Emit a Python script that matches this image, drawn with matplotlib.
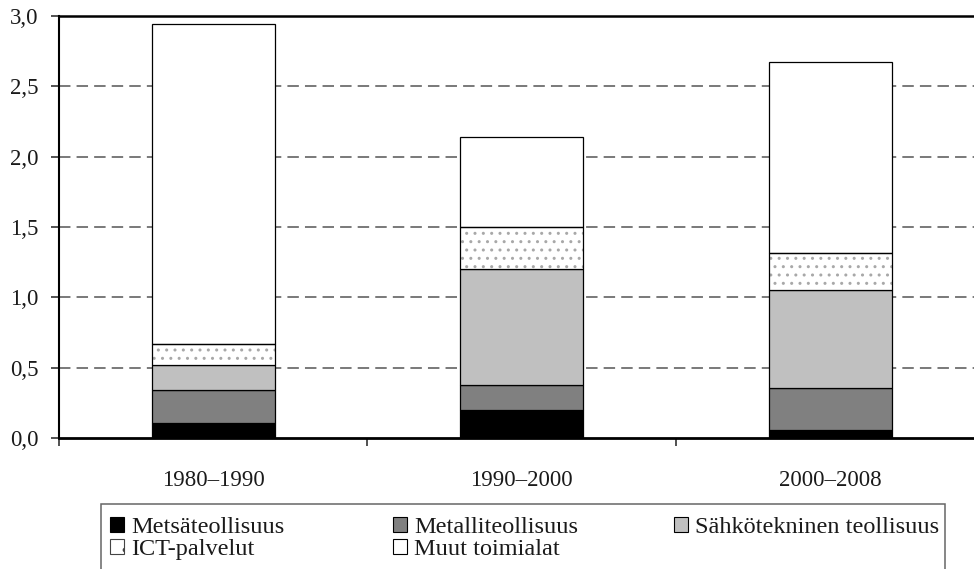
import matplotlib
matplotlib.use("Agg")
import matplotlib.pyplot as plt
import numpy as np
from matplotlib.patches import Rectangle, Patch
from matplotlib.ticker import FixedLocator, FuncFormatter

periods = ["1980\u20131990", "1990\u20132000", "2000\u20132008"]
series_names = ["Mets\u00e4teollisuus", "Metalliteollisuus", "S\u00e4hk\u00f6tekninen teollisuus",
                "ICT-palvelut", "Muut toimialat"]
metsa = [0.11, 0.20, 0.055]
metalli = [0.23, 0.18, 0.30]
sahko = [0.18, 0.82, 0.70]
ict = [0.15, 0.30, 0.26]
muut = [2.27, 0.64, 1.36]
yticks = [0.0, 0.5, 1.0, 1.5, 2.0, 2.5, 3.0]

plt.rcParams['font.family'] = ['Liberation Serif', 'DejaVu Serif']
plt.rcParams['hatch.linewidth'] = 1.0
FS = 16.5
LFS = 17.5
TXT = '#1a1a1a'

W, H = 974, 569
fig = plt.figure(figsize=(W / 100, H / 100), dpi=100)
ax = fig.add_axes([59 / W, (H - 438) / H, 925.5 / W, 422 / H])

x = np.arange(len(periods))
bw = 0.40
values = [metsa, metalli, sahko, ict, muut]
fills = ['black', '#808080', '#c0c0c0', 'white', 'white']
bottom = np.zeros(len(periods))
handles = []
for name, vals, fc in zip(series_names, values, fills):
    vals = np.array(vals)
    if name == "ICT-palvelut":
        ax.bar(x, vals, bw, bottom=bottom, color='white', edgecolor='#a8a8a8',
               linewidth=0, hatch='..', zorder=3)
        ax.bar(x, vals, bw, bottom=bottom, fill=False, edgecolor='black',
               linewidth=0.9, zorder=4)
        handles.append(Patch(facecolor='white', edgecolor='#444444', linewidth=0.8,
                             hatch='.'))
    else:
        ax.bar(x, vals, bw, bottom=bottom, color=fc, edgecolor='black',
               linewidth=0.9, zorder=3)
        handles.append(Patch(facecolor=fc, edgecolor='black', linewidth=0.8))
    bottom += vals

ax.set_xlim(-0.5, 2.5)
ax.set_ylim(0, 3.0)
ax.yaxis.set_major_locator(FixedLocator(yticks))
ax.yaxis.set_major_formatter(FuncFormatter(lambda v, p: f"{v:.1f}".replace('.', ',')))
ax.set_xticks(x)
ax.set_xticklabels(periods)
ax.set_xticks([-0.5, 0.5, 1.5, 2.5], minor=True)
ax.tick_params(axis='x', which='major', length=0, pad=23, labelsize=FS, labelcolor=TXT)
ax.tick_params(axis='x', which='minor', length=6, width=1.2, direction='out', color='#333333')
ax.tick_params(axis='y', length=6, width=1.2, direction='out', pad=9, labelsize=FS,
               labelcolor=TXT, color='#333333')

for gy in yticks[1:-1]:
    ax.axhline(gy, color='#555555', linestyle=(0, (7.5, 4)), linewidth=1.1, zorder=1)

ax.spines['right'].set_visible(False)
ax.spines['top'].set_linewidth(1.8)
ax.spines['bottom'].set_linewidth(2.0)
ax.spines['left'].set_linewidth(1.5)
ax.spines['bottom'].set_zorder(5)

# legend box
box = Rectangle((101 / W, -0.05), (945 - 101) / W, (H - 504) / H + 0.05,
                transform=fig.transFigure, facecolor='none', edgecolor='#666666',
                linewidth=1.1, clip_on=False)
fig.patches.append(box)

cols = [[0, 3], [1, 4], [2]]
col_x = [110, 393, 674]
for cx, idxs in zip(col_x, cols):
    fig.legend([handles[i] for i in idxs], [series_names[i] for i in idxs],
               loc='upper left', bbox_to_anchor=(cx / W, (H - 517) / H),
               frameon=False, fontsize=LFS, handlelength=0.58, handleheight=0.58,
               handletextpad=0.3, labelspacing=0.04, borderpad=0,
               borderaxespad=0, labelcolor=TXT)

fig.savefig("out.png", dpi=100)
